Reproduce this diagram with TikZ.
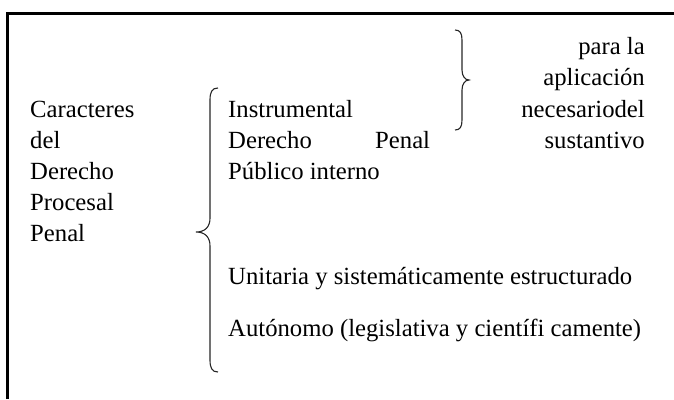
\documentclass[tikz,border=0pt]{standalone}
\usepackage{fontspec}
\setmainfont{Liberation Serif}
\begin{document}
\begin{tikzpicture}[x=1pt,y=-1pt,
  txt/.style={anchor=base west,inner sep=0pt,font=\fontsize{24.7}{30}\selectfont},
  txtr/.style={anchor=base east,inner sep=0pt,font=\fontsize{24.7}{30}\selectfont},
  frame/.style={line width=3pt},
  brace/.style={line width=1.1pt,black!85}]
\useasboundingbox (0,0) rectangle (674,399);
% frame
\draw[frame] (7,399) -- (7,13) -- (674,13);
% left column
\node[txt] (c1) at (30,117) {Caracteres};
\node[txt] (c2) at (30,148) {del};
\node[txt] (c3) at (30,179) {Derecho};
\node[txt] (c4) at (30,210) {Procesal};
\node[txt] (c5) at (30,241) {Penal};
% middle column
\node[txt] (m1) at (228,117) {Instrumental};
\node[txt] (m2a) at (228,148) {Derecho};
\node[txt] (m2b) at (375,148) {Penal};
\node[txt] (m3) at (228,179) {Público interno};
\node[txt] (m4) at (228,284) {Unitaria y sistemáticamente estructurado};
\node[txt] (m5) at (228,336) {Autónomo (legislativa y científi camente)};
% right column
\node[txtr] (r1) at (645,54) {para la};
\node[txtr] (r2) at (645,85) {aplicación};
\node[txtr] (r3) at (645,117) {necesariodel};
\node[txtr] (r4) at (645,148) {sustantivo};
% left brace
\draw[brace] (218,88) .. controls (212,88) and (210,92) .. (210,100) -- (210,218)
  .. controls (210,227) and (205,232) .. (196,232)
  .. controls (205,232) and (210,237) .. (210,246) -- (210,360)
  .. controls (210,368) and (212,372) .. (218,372);
% right brace
\draw[brace] (455,30) .. controls (460,30) and (462,33) .. (462,40) -- (462,70)
  .. controls (462,76) and (465,80) .. (469,80)
  .. controls (465,80) and (462,84) .. (462,90) -- (462,120)
  .. controls (462,127) and (460,130) .. (455,130);
\end{tikzpicture}
\end{document}
